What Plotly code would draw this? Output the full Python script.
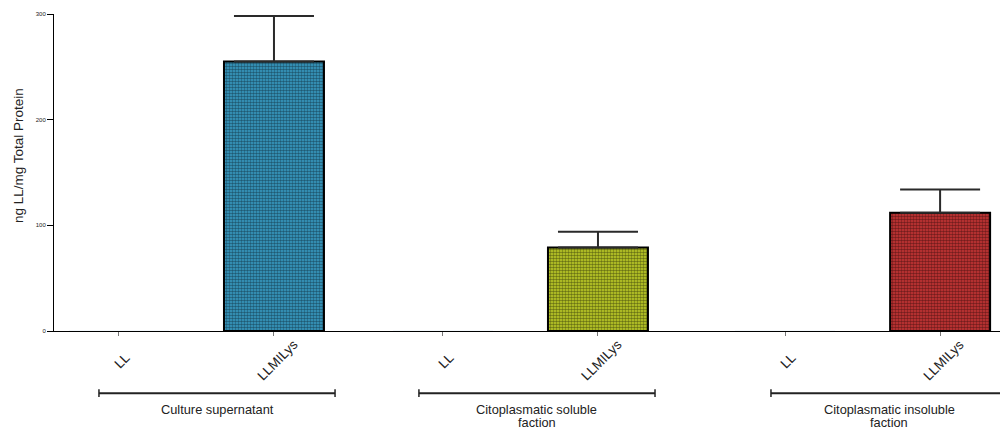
import plotly.graph_objects as go

# ---- data ----
groups = [["Culture supernatant"], ["Citoplasmatic soluble", "faction"], ["Citoplasmatic insoluble", "faction"]]
strains = ["LL", "LLMILys"]
values_ll = [0, 0, 0]
values_llmilys = [255, 79, 112]
errors_llmilys = [43, 15, 22]
y_ticks = [0, 100, 200, 300]

# ---- layout positions (slot units) ----
pos_ll = [0.0, 2.09, 4.297]
pos_lys = [1.0, 3.09, 5.297]
bracket_ranges = [(-0.129, 1.394), (1.935, 3.458), (4.206, 5.729)]
bar_fill = [("#3a9fc8", "#06161d"), ("#c4d42a", "#121400"), ("#cc3737", "#1c0303")]

FONT = "Liberation Sans, Arial"

fig = go.Figure()
for i in range(3):
    bg, fg = bar_fill[i]
    fig.add_trace(go.Bar(
        x=[pos_lys[i]], y=[values_llmilys[i]], width=0.645,
        marker=dict(color=bg, line=dict(color="black", width=2),
                    pattern=dict(shape=".", bgcolor=bg, fgcolor=fg, size=3, solidity=0.55)),
        error_y=dict(type="data", array=[errors_llmilys[i]], arrayminus=[0], symmetric=False,
                     color="#2a2a2a", thickness=2, width=40),
        showlegend=False,
    ))
    fig.add_trace(go.Bar(x=[pos_ll[i]], y=[values_ll[i]], width=0.645,
                         marker=dict(color=bg), showlegend=False))

ann = []
shapes = []
label_y = -0.0915
line_ys = [-0.249, -0.290]
for i in range(3):
    for p, s in ((pos_ll[i], strains[0]), (pos_lys[i], strains[1])):
        ann.append(dict(x=p + 0.02, y=label_y, xref="x", yref="paper", text=s, showarrow=False,
                        textangle=-45, font=dict(size=13.5, color="#222", family=FONT),
                        xanchor="center", yanchor="middle"))
    x0, x1 = bracket_ranges[i]
    by = -0.196
    shapes.append(dict(type="line", xref="x", yref="paper", x0=x0, x1=x1, y0=by, y1=by,
                       line=dict(color="#222", width=2)))
    for xe in (x0, x1):
        shapes.append(dict(type="line", xref="x", yref="paper", x0=xe, x1=xe, y0=by - 0.012, y1=by + 0.012,
                           line=dict(color="#222", width=1.5)))
    for k, txt in enumerate(groups[i]):
        ann.append(dict(x=(x0 + x1) / 2, y=line_ys[k], xref="x", yref="paper", text=txt, showarrow=False,
                        font=dict(size=12.8, color="#222", family=FONT),
                        xanchor="center", yanchor="middle"))

ann.append(dict(x=-0.0378, y=0.555, xref="paper", yref="paper", text="ng LL/mg Total Protein",
                showarrow=False, textangle=-90, font=dict(size=13.5, color="#222", family=FONT),
                xanchor="center", yanchor="middle"))

# page body has an 8px margin; size the figure so the plot lands where the reference has it
fig.update_layout(
    width=1000, height=422,
    margin=dict(l=46, r=0, t=6, b=99, autoexpand=False),
    plot_bgcolor="white", paper_bgcolor="white",
    annotations=ann, shapes=shapes, barmode="overlay",
    xaxis=dict(range=[-0.419, 5.735], showgrid=False, zeroline=False, showline=True,
               linecolor="black", linewidth=1, tickvals=pos_ll + pos_lys, ticktext=[""] * 6,
               ticks="outside", ticklen=4, tickcolor="#777", tickwidth=1),
    yaxis=dict(range=[0, 300], tickvals=y_ticks, showgrid=False, zeroline=False, showline=True,
               linecolor="black", linewidth=1, ticks="outside", ticklen=6, tickcolor="black",
               tickfont=dict(size=6, color="#222", family=FONT)),
)

fig.write_html("out.html")
